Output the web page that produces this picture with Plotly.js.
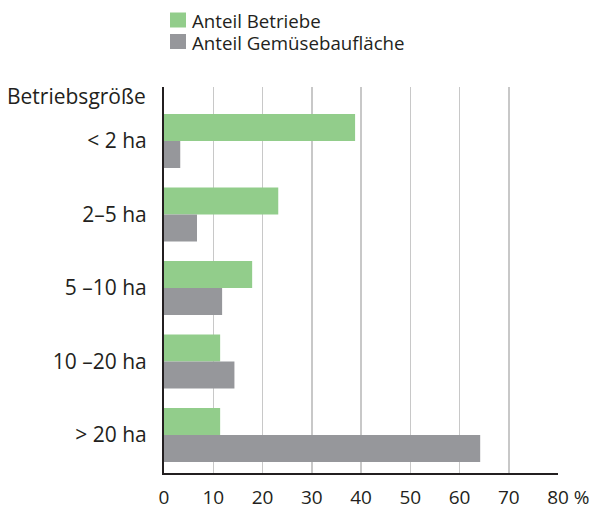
<!DOCTYPE html>
<html>
<head>
<meta charset="utf-8">
<script src="https://cdn.plot.ly/plotly-3.0.1.min.js"></script>
<style>html,body{margin:0;padding:0;background:#fff;}#chart{width:598px;height:508px;}</style>
</head>
<body>
<div id="chart"></div>
<script>
const categories = ["< 2 ha", "2\u20135 ha", "5 \u201310 ha", "10 \u201320 ha", "> 20 ha"];
const anteilBetriebe = [38.8, 23.2, 17.9, 11.4, 11.4];
const anteilFlaeche = [3.3, 6.7, 11.8, 14.3, 64.2];
const seriesNames = ["Anteil Betriebe", "Anteil Gemüsebaufläche"];
const seriesColors = ["#92cd8b", "#96979b"];
const xTickVals = [0, 10, 20, 30, 40, 50, 60, 70, 80];
const xTickText = ["0", "10", "20", "30", "40", "50", "60", "70",
                   "<span style='color:rgba(0,0,0,0)'>%</span> 80 %"];
const yTitle = "Betriebsgröße";

const FONT = "Open Sans, Noto Sans, DejaVu Sans, sans-serif";
const TXT = "#231f20";

// plot area in pixels: left 164, top 87, width 394, height 386
const PX = (px) => (px - 164) / 394;
const PY = (py) => 1 - (py - 87) / 386;

const traces = seriesNames.map((name, i) => ({
  type: "bar", orientation: "h", name: name, y: categories,
  x: i === 0 ? anteilBetriebe : anteilFlaeche,
  marker: {color: seriesColors[i], line: {width: 0}}, hoverinfo: "x+name"
}));

// hand-placed legend (swatch + label) to match the reference's legend block
const legendShapes = seriesNames.map((n, i) => ({
  type: "rect", xref: "paper", yref: "paper",
  x0: PX(170), x1: PX(186), y0: PY(i === 0 ? 12.5 : 34), y1: PY(i === 0 ? 27.5 : 49),
  fillcolor: seriesColors[i], line: {width: 0}
}));
const legendLabels = seriesNames.map((n, i) => ({
  text: n, xref: "paper", yref: "paper", x: PX(190), y: PY(i === 0 ? 20 : 42),
  xanchor: "left", yanchor: "middle", showarrow: false, font: {size: 18.7, color: TXT}
}));

const layout = {
  width: 598, height: 508,
  margin: {l: 164, r: 40, t: 87, b: 35, autoexpand: false},
  paper_bgcolor: "#fff", plot_bgcolor: "#fff",
  font: {family: FONT, color: TXT, size: 20},
  barmode: "group", bargap: 0.265, bargroupgap: 0,
  showlegend: false,
  xaxis: {range: [0, 80], tickvals: xTickVals, ticktext: xTickText,
          showgrid: true, gridcolor: "#c8c8c8", gridwidth: 1.5,
          zeroline: false, showline: true, linecolor: "#231f20", linewidth: 2,
          ticks: "outside", ticklen: 6, tickcolor: "rgba(0,0,0,0)",
          ticklabeloverflow: "allow",
          tickfont: {size: 19, color: TXT}, fixedrange: true},
  yaxis: {type: "category", range: [4.517, -0.735], showgrid: false, zeroline: false,
          showline: true, linecolor: "#231f20", linewidth: 2,
          ticks: "outside", ticklen: 11, tickcolor: "rgba(0,0,0,0)",
          tickfont: {size: 21, color: TXT}, fixedrange: true},
  shapes: legendShapes,
  annotations: [
    {text: yTitle, xref: "paper", yref: "paper", x: PX(148), y: PY(96),
     xanchor: "right", yanchor: "middle", showarrow: false, font: {size: 21, color: TXT}}
  ].concat(legendLabels)
};

Plotly.newPlot("chart", traces, layout, {displayModeBar: false, staticPlot: true});
</script>
</body>
</html>
